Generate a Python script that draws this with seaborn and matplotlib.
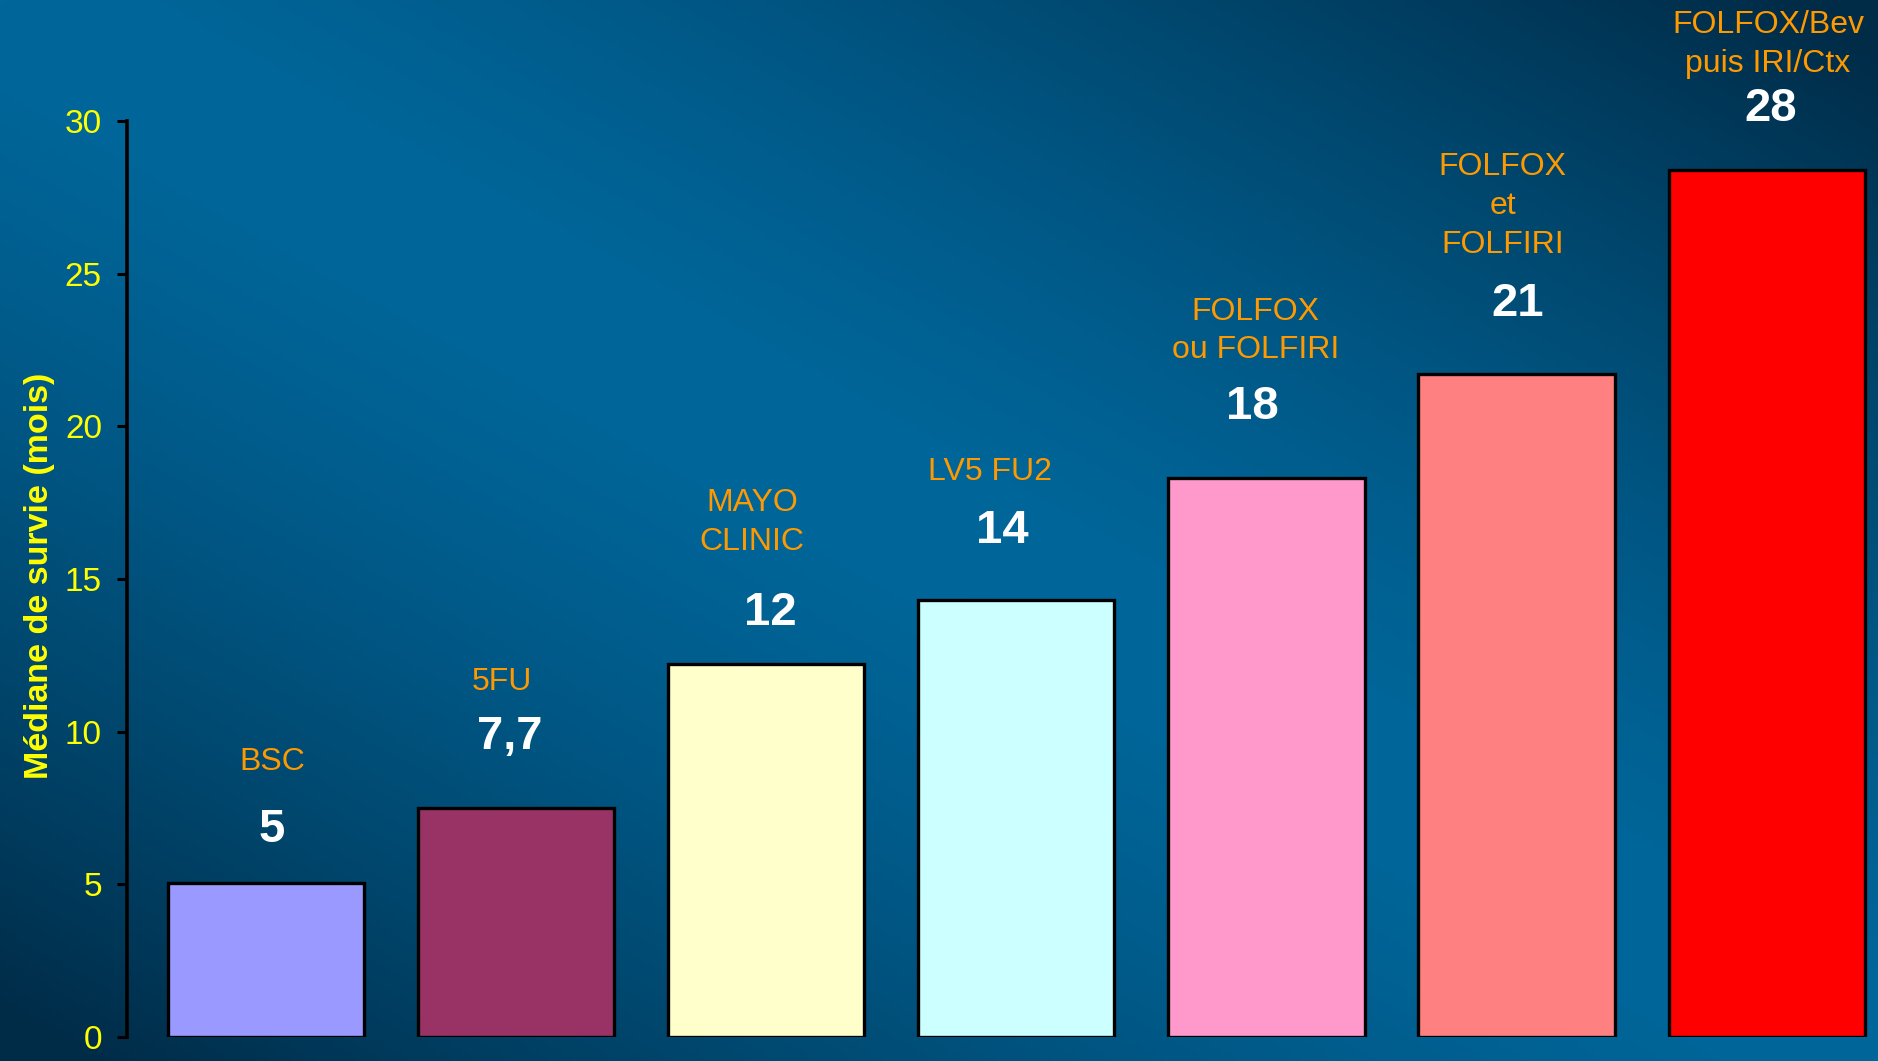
import numpy as np
import pandas as pd
import matplotlib
matplotlib.use("Agg")
import matplotlib.pyplot as plt
import seaborn as sns

# ---- data ----
categories = ["BSC", "5FU", "MAYO\nCLINIC", "LV5 FU2", "FOLFOX\nou FOLFIRI",
              "FOLFOX\net\nFOLFIRI", "FOLFOX/Bev\npuis IRI/Ctx"]
bar_heights = [5.05, 7.5, 12.2, 14.3, 18.3, 21.7, 28.4]
value_labels = ["5", "7,7", "12", "14", "18", "21", "28"]
bar_colors = ["#9999FF", "#993366", "#FFFFCC", "#CCFFFF", "#FF99CC", "#FF8080", "#FF0000"]
y_ticks = [0, 5, 10, 15, 20, 25, 30]
y_label = "Médiane de survie (mois)"

# ---- text placement (layout) ----
label_x = [0.04, 0.96, 1.96, 2.91, 3.97, 4.96, 6.02]
label_y = [9.0, 11.62, 16.85, 18.5, 23.12, 27.22, 32.5]
value_x = [0.04, 0.99, 2.03, 2.96, 3.96, 5.02, 6.03]
value_y = [6.78, 9.83, 13.89, 16.57, 20.64, 24.0, 30.4]

sns.set_style("white")
plt.rcParams["font.family"] = ["Liberation Sans", "DejaVu Sans"]

W, H = 1878, 1061
fig = plt.figure(figsize=(W / 100, H / 100), dpi=100)

# background gradient (bright along the top-left/bottom-right diagonal)
bg = fig.add_axes([0, 0, 1, 1], zorder=-10)
xx, yy = np.meshgrid(np.linspace(0, 1, 400), np.linspace(0, 1, 240))
d = np.abs(xx - yy)
t = np.clip(d * 1.05, 0, 1) ** 1.4
bright = np.array([0x00, 0x67, 0x9B]) / 255.0
dark = np.array([0x00, 0x2C, 0x48]) / 255.0
img = bright[None, None, :] * (1 - t[..., None]) + dark[None, None, :] * t[..., None]
bg.imshow(img, extent=[0, 1, 0, 1], aspect="auto", origin="upper")
bg.set_axis_off()

ax = fig.add_axes([127 / W, 24 / H, 1 - 127 / W, 916 / H])
ax.patch.set_alpha(0)

df = pd.DataFrame({"cat": categories, "val": bar_heights})
sns.barplot(data=df, x="cat", y="val", hue="cat", palette=bar_colors,
            legend=False, width=0.785, edgecolor="black", linewidth=2.4,
            saturation=1, ax=ax)

ax.set_xlim(-0.555, 6.445)
ax.set_ylim(0, 30)
ax.set_yticks(y_ticks)
ax.set_xticks([])
ax.set_xlabel("")
for s in ["top", "right", "bottom"]:
    ax.spines[s].set_visible(False)
ax.spines["left"].set_color("black")
ax.spines["left"].set_linewidth(2.6)
ax.tick_params(axis="y", left=True, direction="out", length=7, width=2.2,
               color="black", labelcolor="#FFFF00", labelsize=24, pad=11)
ax.set_ylabel(y_label, color="#FFFF00", fontsize=24.5, fontweight="bold", va="center")
ax.yaxis.set_label_coords(-0.0497, 0.503)

for i in range(len(categories)):
    ax.text(label_x[i] - 0.015, label_y[i], categories[i], ha="center", va="center",
            color="#FF9900", fontsize=23, linespacing=1.38, clip_on=False)
    ax.text(value_x[i] - 0.015, value_y[i], value_labels[i], ha="center", va="center",
            color="white", fontsize=34, fontweight="bold", clip_on=False)

fig.savefig("out.png", dpi=100)
